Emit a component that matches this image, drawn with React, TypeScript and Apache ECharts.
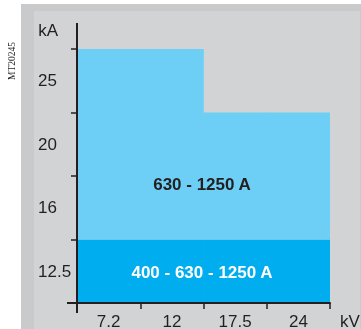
import React, { useEffect, useRef } from "react";
import * as echarts from "echarts";

// Rated voltage categories (kV) and short-circuit current categories (kA)
const xLabels = ["7.2", "12", "17.5", "24"];
const yLabels = ["12.5", "16", "20", "25"];
// Max kA rating reached per voltage for each current range
const rating400to1250 = ["12.5", "12.5", "12.5", "12.5"];
const rating630to1250 = ["25", "25", "20", "20"];
const rangeNames = ["400 - 630 - 1250 A", "630 - 1250 A"];

const FONT = "Liberation Sans, Arial, Helvetica, sans-serif";
const INK = "#231f20";
const DARK = "#00aeef";
const LIGHT = "#6dcff6";

export default function App() {
  const ref = useRef<HTMLDivElement>(null);
  useEffect(() => {
    if (!ref.current) return;
    const chart = echarts.init(ref.current, undefined, { renderer: "svg" });
    const lowLevels = rating400to1250.map((r) => yLabels.indexOf(r) + 1);
    const highLevels = rating630to1250.map(
      (r, i) => yLabels.indexOf(r) + 1 - lowLevels[i]
    );
    chart.setOption({
      animation: false,
      grid: {
        left: 77,
        right: 31,
        top: 49,
        bottom: 26,
        containLabel: false,
        outerBoundsMode: "none",
      },
      graphic: [
        {
          type: "rect",
          z: -10,
          shape: { x: 21, y: 4, width: 340, height: 325 },
          style: { fill: "#c9cacc" },
          silent: true,
        },
        {
          type: "rect",
          z: -9,
          shape: { x: 34, y: 11, width: 326, height: 318 },
          style: { fill: "#d2d3d5" },
          silent: true,
        },
        {
          type: "text",
          z: 100,
          x: 12,
          y: 61,
          rotation: Math.PI / 2,
          style: {
            text: "MT20245",
            font: "9.5px Liberation Serif, Times New Roman, serif",
            fill: "#231f20",
            textAlign: "center",
            textVerticalAlign: "middle",
          },
        },
        {
          type: "text",
          z: 100,
          x: 202,
          y: 184,
          style: {
            text: rangeNames[1],
            font: "bold 17px " + FONT,
            fill: INK,
            textAlign: "center",
            textVerticalAlign: "middle",
          },
        },
        {
          type: "text",
          z: 100,
          x: 202,
          y: 272,
          style: {
            text: rangeNames[0],
            font: "bold 17px " + FONT,
            fill: "#ffffff",
            textAlign: "center",
            textVerticalAlign: "middle",
          },
        },
      ],
      xAxis: {
        type: "category",
        data: xLabels,
        z: 5,
        boundaryGap: true,
        name: "kV",
        nameLocation: "end",
        nameGap: 10,
        nameTextStyle: {
          fontFamily: FONT,
          fontSize: 17,
          color: INK,
          align: "left",
          verticalAlign: "top",
          lineHeight: 36,
        },
        axisLine: {
          show: true,
          lineStyle: { color: INK, width: 2 },
          symbol: ["rect", "none"],
          symbolSize: [2, 20],
          symbolOffset: [0, 0],
        },
        axisTick: {
          show: true,
          length: 6,
          lineStyle: { color: INK, width: 1.5 },
        },
        axisLabel: {
          fontFamily: FONT,
          fontSize: 17,
          color: INK,
          margin: 10,
        },
        splitLine: { show: false },
        splitArea: { show: false },
      },
      yAxis: [
        {
          type: "value",
          position: "left",
          min: 0,
          max: 4,
          interval: 1,
          z: 5,
          name: "kA",
          nameLocation: "end",
          nameGap: 19,
          nameTextStyle: {
            fontFamily: FONT,
            fontSize: 17,
            color: INK,
            align: "right",
            verticalAlign: "middle",
            padding: [0, 19, 0, 0],
          },
          axisLine: {
            show: true,
            lineStyle: { color: INK, width: 2 },
            symbol: ["rect", "rect"],
            symbolSize: [2, 52],
            symbolOffset: [16, 0],
          },
          axisTick: {
            show: true,
            length: 6,
            lineStyle: { color: INK, width: 1.5 },
          },
          axisLabel: { show: false },
          splitLine: { show: false },
        },
        {
          type: "category",
          position: "left",
          data: yLabels,
          boundaryGap: true,
          axisLine: { show: false },
          axisTick: { show: false },
          splitLine: { show: false },
          axisLabel: {
            fontFamily: FONT,
            fontSize: 17,
            color: INK,
            align: "left",
            margin: 39,
          },
        },
      ],
      series: [
        {
          name: rangeNames[0],
          type: "bar",
          stack: "rating",
          yAxisIndex: 0,
          barCategoryGap: "0%",
          barWidth: "101%",
          itemStyle: { color: DARK },
          emphasis: { disabled: true },
          data: lowLevels,
        },
        {
          name: rangeNames[1],
          type: "bar",
          stack: "rating",
          yAxisIndex: 0,
          barCategoryGap: "0%",
          barWidth: "101%",
          itemStyle: { color: LIGHT },
          emphasis: { disabled: true },
          data: highLevels,
        },
      ],
    });
    return () => chart.dispose();
  }, []);
  return (
    <div
      ref={ref}
      style={{ position: "fixed", left: 0, top: 0, width: 361, height: 329 }}
    />
  );
}
